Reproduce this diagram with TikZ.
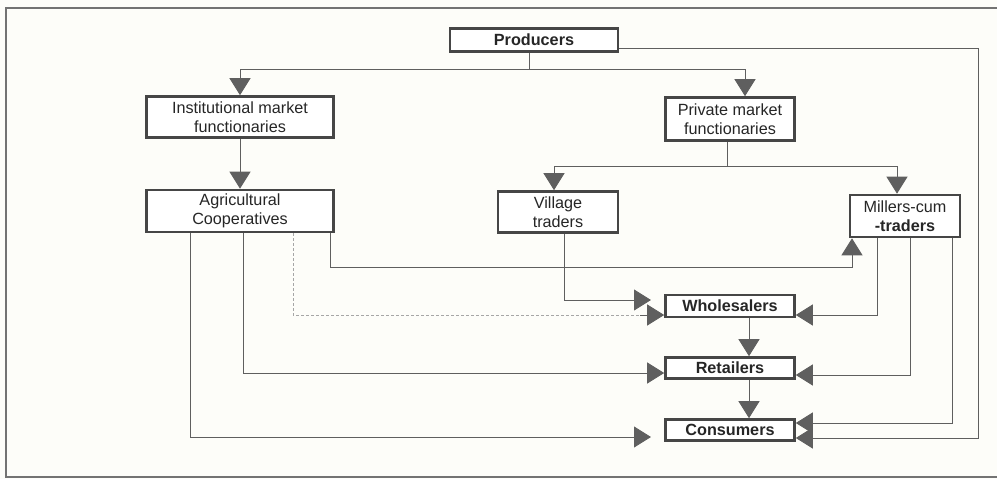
\documentclass[tikz,border=0pt]{standalone}
\usepackage{fontspec}
\setmainfont{Liberation Sans}
\usepackage{xcolor}
\definecolor{scanink}{RGB}{70, 70, 70}
\definecolor{scanline}{RGB}{95, 95, 95}
\definecolor{scanpaper}{RGB}{253, 253, 249}
\usepackage{tikz}
\usetikzlibrary{arrows.meta, positioning, calc}

\begin{document}
\begin{tikzpicture}[
    x=1pt, y=-1pt,
    chain/.style={rectangle, draw=scanink, line width=2.6pt, fill=white, inner sep=0pt, align=center, text=black!85, font=\fontsize{16.2}{19}\selectfont},
    flow/.style={draw=scanline, line width=0.9pt},
    feed/.style={flow, -{Triangle[width=21pt, length=17pt, fill=scanline]}},
    faint/.style={draw=black!35, line width=0.9pt, densely dashed}
  ]
    \useasboundingbox[fill=scanpaper] (0,0) rectangle (997,479);
    \draw[draw=black!55, line width=1.8pt] (997,8) -- (6,8) -- (6,477) -- (997,477);

    % channel members
    \node[chain, minimum width=168pt, minimum height=23pt, font=\fontsize{16.2}{19}\selectfont\bfseries] (prod) at (534,40) {Producers};
    \node[chain, minimum width=187pt, minimum height=41pt] (inst) at (240,117) {Institutional market\\functionaries};
    \node[chain, minimum width=187pt, minimum height=42pt] (agri) at (240,211) {Agricultural\\Cooperatives};
    \node[chain, minimum width=129pt, minimum height=43pt] (priv) at (730,119) {Private market\\functionaries};
    \node[chain, minimum width=120pt, minimum height=41pt] (vill) at (558,212) {Village\\traders};
    \node[chain, minimum width=110pt, minimum height=42pt] (mill) at (905,216) {Millers-cum\\\textbf{-traders}};
    \node[chain, minimum width=129pt, minimum height=22pt, font=\fontsize{16.2}{19}\selectfont\bfseries] (whol) at (730,306) {Wholesalers};
    \node[chain, minimum width=129pt, minimum height=21pt, font=\fontsize{16.2}{19}\selectfont\bfseries] (reta) at (730,368) {Retailers};
    \node[chain, minimum width=129pt, minimum height=21pt, font=\fontsize{16.2}{19}\selectfont\bfseries] (cons) at (730,430) {Consumers};

    % producers split
    \coordinate (pfork) at ($(prod.south |- 0,69) + (-5,0)$);
    \draw[flow] ($(prod.south) + (-5,0)$) -- (pfork);
    \draw[feed] (pfork) -| (inst.north);
    \draw[feed] (pfork) -| ($(priv.north) + (15,0)$);
    \draw[feed] (inst.south) -- (agri.north);

    % private split
    \coordinate (vfork) at ($(priv.south) + (-3,25)$);
    \draw[flow] ($(priv.south) + (-3,0)$) -- (vfork);
    \draw[feed] (vfork) -| ($(vill.north) + (-4,0)$);
    \draw[feed] (vfork) -| ($(mill.north) + (-8,0)$);

    % cooperatives
    \draw[feed] (agri.south -| 330,0) |- (852,267) -- (mill.south -| 852,0);
    \draw[faint] (agri.south -| 293,0) |- (640,315);
    \draw[feed] (640,315) -- (whol.west |- 0,315);
    \draw[feed] (agri.south -| 243,0) |- (reta.west |- 0,373);
    \draw[feed] (agri.south -| 190,0) |- (651,437);

    % traders
    \draw[feed] (vill.south -| 564,0) |- (651,300);
    \draw[feed] (mill.south -| 877,0) |- (whol.east |- 0,315);
    \draw[feed] (mill.south -| 910,0) |- (reta.east |- 0,375);
    \draw[feed] (mill.south -| 952,0) |- (cons.east |- 0,423);
    \draw[feed] (prod.east |- 0,48) -| (978,438) -- (cons.east |- 0,438);

    % down the chain
    \draw[feed] (whol.south -| 749,0) -- (reta.north -| 749,0);
    \draw[feed] (reta.south -| 749,0) -- (cons.north -| 749,0);
  \end{tikzpicture}
\end{document}
